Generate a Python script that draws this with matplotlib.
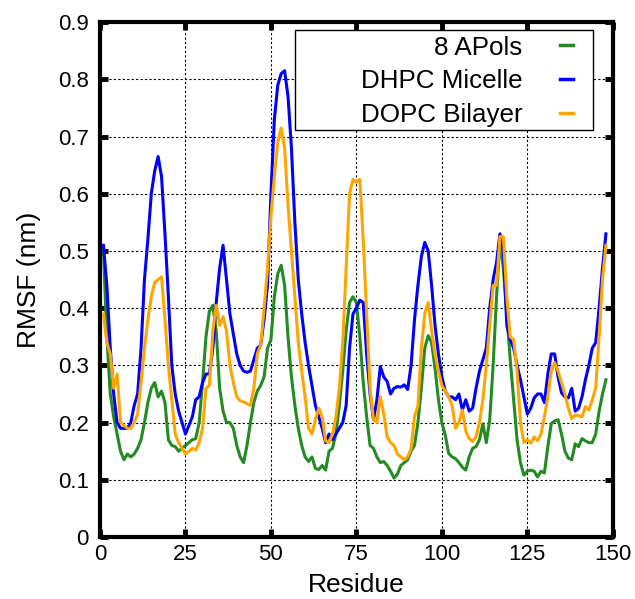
import numpy
import matplotlib
matplotlib.use('Agg')
import matplotlib.pyplot as plt
from matplotlib.patches import Rectangle

plt.rcParams['font.family'] = ['Liberation Sans', 'DejaVu Sans']

residue = numpy.arange(1, 149)

rmsf_apols = [
    0.50, 0.35, 0.25, 0.21, 0.18, 0.15, 0.135, 0.145, 0.14, 0.145,
    0.155, 0.17, 0.20, 0.235, 0.26, 0.27, 0.245, 0.255, 0.235, 0.17,
    0.16, 0.158, 0.15, 0.155, 0.16, 0.165, 0.17, 0.172, 0.20, 0.27,
    0.35, 0.395, 0.405, 0.36, 0.26, 0.22, 0.20, 0.20, 0.19, 0.16,
    0.14, 0.13, 0.16, 0.20, 0.235, 0.255, 0.265, 0.28, 0.33, 0.345,
    0.42, 0.46, 0.475, 0.44, 0.35, 0.28, 0.23, 0.19, 0.16, 0.14,
    0.132, 0.14, 0.12, 0.118, 0.125, 0.117, 0.15, 0.155, 0.18, 0.23,
    0.29, 0.36, 0.41, 0.42, 0.41, 0.35, 0.27, 0.21, 0.16, 0.155,
    0.14, 0.13, 0.132, 0.125, 0.115, 0.103, 0.11, 0.125, 0.13, 0.135,
    0.15, 0.16, 0.20, 0.26, 0.33, 0.352, 0.34, 0.295, 0.24, 0.20,
    0.178, 0.146, 0.14, 0.137, 0.13, 0.122, 0.117, 0.14, 0.155, 0.158,
    0.17, 0.198, 0.165, 0.205, 0.30, 0.42, 0.52, 0.47, 0.39, 0.31,
    0.24, 0.17, 0.13, 0.108, 0.115, 0.117, 0.115, 0.105, 0.115, 0.112,
    0.158, 0.198, 0.203, 0.205, 0.18, 0.15, 0.138, 0.135, 0.163, 0.158,
    0.172, 0.168, 0.165, 0.165, 0.18, 0.22, 0.25, 0.275,
]

rmsf_dhpc = [
    0.51, 0.44, 0.33, 0.25, 0.20, 0.19, 0.19, 0.19, 0.20, 0.23,
    0.25, 0.33, 0.45, 0.52, 0.60, 0.64, 0.665, 0.63, 0.53, 0.42,
    0.30, 0.25, 0.22, 0.20, 0.18, 0.195, 0.21, 0.24, 0.245, 0.27,
    0.285, 0.285, 0.33, 0.41, 0.47, 0.51, 0.45, 0.39, 0.355, 0.32,
    0.30, 0.29, 0.288, 0.29, 0.31, 0.33, 0.335, 0.38, 0.44, 0.60,
    0.73, 0.79, 0.81, 0.815, 0.77, 0.68, 0.55, 0.45, 0.39, 0.34,
    0.30, 0.265, 0.23, 0.21, 0.19, 0.165, 0.18, 0.17, 0.18, 0.19,
    0.20, 0.23, 0.33, 0.39, 0.40, 0.414, 0.41, 0.32, 0.25, 0.205,
    0.24, 0.298, 0.28, 0.272, 0.25, 0.26, 0.263, 0.262, 0.266, 0.258,
    0.30, 0.38, 0.44, 0.49, 0.515, 0.50, 0.44, 0.37, 0.32, 0.28,
    0.255, 0.245, 0.245, 0.24, 0.25, 0.222, 0.24, 0.22, 0.225, 0.26,
    0.29, 0.31, 0.33, 0.40, 0.45, 0.48, 0.53, 0.50, 0.37, 0.345,
    0.33, 0.30, 0.275, 0.245, 0.215, 0.225, 0.243, 0.25, 0.25, 0.235,
    0.285, 0.32, 0.32, 0.28, 0.252, 0.245, 0.243, 0.26, 0.22, 0.225,
    0.245, 0.275, 0.30, 0.33, 0.34, 0.40, 0.47, 0.53,
]

rmsf_dopc = [
    0.39, 0.34, 0.32, 0.26, 0.285, 0.20, 0.195, 0.19, 0.19, 0.20,
    0.215, 0.27, 0.33, 0.38, 0.42, 0.445, 0.45, 0.455, 0.38, 0.30,
    0.24, 0.18, 0.165, 0.155, 0.145, 0.15, 0.155, 0.152, 0.165, 0.19,
    0.26, 0.265, 0.36, 0.405, 0.37, 0.385, 0.36, 0.30, 0.27, 0.245,
    0.238, 0.236, 0.233, 0.23, 0.26, 0.32, 0.335, 0.40, 0.47, 0.56,
    0.63, 0.69, 0.715, 0.68, 0.58, 0.50, 0.42, 0.34, 0.29, 0.245,
    0.19, 0.18, 0.205, 0.225, 0.21, 0.168, 0.165, 0.18, 0.21, 0.26,
    0.34, 0.47, 0.60, 0.625, 0.62, 0.625, 0.52, 0.39, 0.26, 0.205,
    0.20, 0.245, 0.215, 0.175, 0.165, 0.16, 0.145, 0.14, 0.135, 0.14,
    0.155, 0.21, 0.23, 0.33, 0.39, 0.41, 0.36, 0.32, 0.29, 0.265,
    0.255, 0.245, 0.23, 0.19, 0.20, 0.222, 0.185, 0.172, 0.167, 0.175,
    0.20, 0.24, 0.30, 0.37, 0.44, 0.44, 0.525, 0.525, 0.42, 0.35,
    0.345, 0.29, 0.20, 0.165, 0.17, 0.164, 0.175, 0.168, 0.18, 0.21,
    0.245, 0.29, 0.305, 0.29, 0.27, 0.25, 0.225, 0.207, 0.213, 0.212,
    0.21, 0.228, 0.222, 0.24, 0.26, 0.35, 0.45, 0.51,
]

fig = plt.figure(figsize=(6.35, 5.99), dpi=100)
ax = fig.add_axes([0.1575, 0.1035, 0.8075, 0.8595])

ax.plot(residue, rmsf_apols, color='#228b22', lw=2.2, label='8 APols', zorder=3)
ax.plot(residue, rmsf_dhpc, color='#0000ff', lw=2.2, label='DHPC Micelle', zorder=4)
ax.plot(residue, rmsf_dopc, color='#ffa500', lw=2.2, label='DOPC Bilayer', zorder=5)

ax.set_xlim(0, 150)
ax.set_ylim(0, 0.9)
ax.set_xticks(numpy.arange(0, 151, 25))
ax.set_yticks(numpy.arange(0, 0.91, 0.1))
ax.set_yticklabels(['0', '0.1', '0.2', '0.3', '0.4', '0.5', '0.6', '0.7', '0.8', '0.9'])

ax.grid(True, color='black', linestyle=(0, (2, 2)), lw=0.8)
ax.set_axisbelow(True)
for s in ax.spines.values():
    s.set_linewidth(3)
ax.tick_params(direction='in', length=6, width=3.5, top=True, right=True,
               labelsize=16)
ax.tick_params(axis='x', pad=5)
ax.tick_params(axis='y', pad=8)

ax.set_xlabel('Residue', fontsize=19, labelpad=6)
ax.set_ylabel('RMSF (nm)', fontsize=19, labelpad=12)

# gnuplot-style key: labels right aligned, short sample after the text
leg = ax.legend(loc='upper right', bbox_to_anchor=(0.922, 0.974), borderaxespad=0,
                markerfirst=False, fontsize=18.7, handlelength=0.5,
                handletextpad=1.45, labelspacing=0.38, borderpad=0,
                frameon=False)
for h in leg.get_lines():
    h.set_linewidth(2.5)
ax.add_patch(Rectangle((0.380, 0.790), 0.581, 0.194, transform=ax.transAxes,
                       facecolor='white', edgecolor='black', lw=1, zorder=6))
leg.set_zorder(7)

fig.savefig('out.png', dpi=100)
